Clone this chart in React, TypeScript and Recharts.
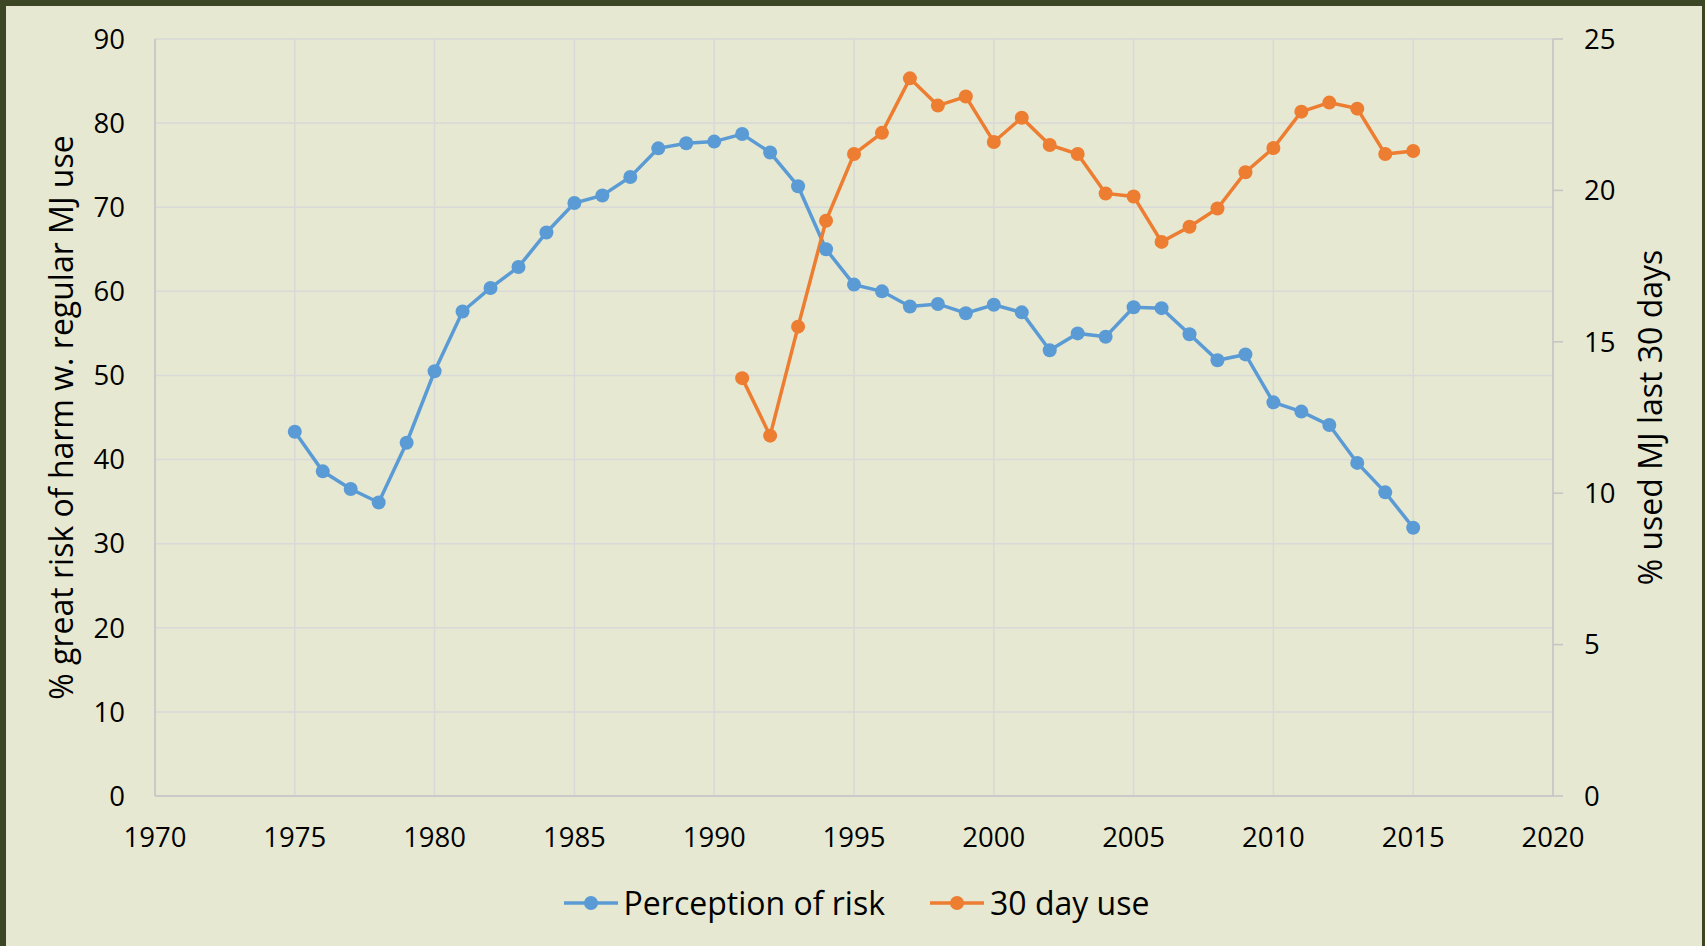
import React from "react";
import { LineChart, Line, XAxis, YAxis, CartesianGrid, Legend } from "recharts";

const years = [
  1975, 1976, 1977, 1978, 1979, 1980, 1981, 1982, 1983, 1984, 1985, 1986, 1987, 1988,
  1989, 1990, 1991, 1992, 1993, 1994, 1995, 1996, 1997, 1998, 1999, 2000, 2001, 2002,
  2003, 2004, 2005, 2006, 2007, 2008, 2009, 2010, 2011, 2012, 2013, 2014, 2015,
];

const perceptionOfRisk = [
  43.3, 38.6, 36.5, 34.9, 42.0, 50.5, 57.6, 60.4, 62.9, 67.0, 70.5, 71.4, 73.6, 77.0,
  77.6, 77.8, 78.7, 76.5, 72.5, 65.0, 60.8, 60.0, 58.2, 58.5, 57.4, 58.4, 57.5, 53.0,
  55.0, 54.6, 58.1, 58.0, 54.9, 51.8, 52.5, 46.8, 45.7, 44.1, 39.6, 36.1, 31.9,
];

const thirtyDayUse: (number | null)[] = [
  null, null, null, null, null, null, null, null, null, null, null, null, null, null,
  null, null, 13.8, 11.9, 15.5, 19.0, 21.2, 21.9, 23.7, 22.8, 23.1, 21.6, 22.4, 21.5,
  21.2, 19.9, 19.8, 18.3, 18.8, 19.4, 20.6, 21.4, 22.6, 22.9, 22.7, 21.2, 21.3,
];

const xTicks = [1970, 1975, 1980, 1985, 1990, 1995, 2000, 2005, 2010, 2015, 2020];
const leftTicks = [0, 10, 20, 30, 40, 50, 60, 70, 80, 90];
const rightTicks = [0, 5, 10, 15, 20, 25];

const seriesNames = ["Perception of risk", "30 day use"];
const axisTitles = {
  left: "% great risk of harm w. regular MJ use",
  right: "% used MJ last 30 days",
};

const data = years.map((year, i) => ({
  year,
  risk: perceptionOfRisk[i],
  use: thirtyDayUse[i],
}));

const FONT = "'Open Sans', sans-serif";
const BLUE = "#5b9bd5";
const ORANGE = "#ed7d31";
const GRID = "#d9d9d9";
const AXIS = "#c4c4c4";
const BG = "#e6e8d1";

const tickStyle = { fill: "#000", fontSize: 27.5, fontFamily: FONT };

const LeftTitle = (props: any) => {
  const vb = props.viewBox || { x: 0, y: 39, width: 155, height: 757 };
  const cx = vb.x + 73;
  const cy = vb.y + vb.height / 2;
  return (
    <text
      x={cx}
      y={cy}
      transform={`rotate(-90 ${cx} ${cy})`}
      textAnchor="middle"
      fontSize={32}
      fontFamily={FONT}
      fill="#000"
    >
      {axisTitles.left}
    </text>
  );
};

const RightTitle = (props: any) => {
  const vb = props.viewBox || { x: 1553, y: 39, width: 152, height: 757 };
  const cx = vb.x + 109;
  const cy = vb.y + vb.height / 2;
  return (
    <text
      x={cx}
      y={cy}
      transform={`rotate(-90 ${cx} ${cy})`}
      textAnchor="middle"
      fontSize={32}
      fontFamily={FONT}
      fill="#000"
    >
      {axisTitles.right}
    </text>
  );
};

const renderLegend = (props: any) => {
  const payload = [...(props.payload || [])].sort(
    (a: any, b: any) => seriesNames.indexOf(a.value) - seriesNames.indexOf(b.value)
  );
  return (
    <div
      style={{
        display: "flex",
        justifyContent: "center",
        alignItems: "center",
        height: 46,
        paddingLeft: 8,
        fontFamily: FONT,
        fontSize: 32,
        color: "#000",
      }}
    >
      {payload.map((entry: any, i: number) => (
        <div
          key={i}
          style={{ display: "flex", alignItems: "center", marginLeft: i === 0 ? 0 : 45 }}
        >
          <svg width={54} height={16} style={{ marginRight: 6 }}>
            <line x1={0} y1={8} x2={54} y2={8} stroke={entry.color} strokeWidth={3.5} />
            <circle cx={27} cy={8} r={7} fill={entry.color} />
          </svg>
          <span style={{ lineHeight: "46px" }}>{entry.value}</span>
        </div>
      ))}
    </div>
  );
};

export default function App() {
  return (
    <div
      style={{
        position: "absolute",
        top: 0,
        left: 0,
        width: 1705,
        height: 946,
        background: "#3d4624",
        overflow: "hidden",
      }}
    >
      <div
        style={{
          position: "absolute",
          top: 6,
          left: 6,
          right: 3,
          bottom: 0,
          background: BG,
        }}
      />
      <div style={{ position: "absolute", top: 0, left: 0 }}>
        <LineChart
          width={1705}
          height={946}
          data={data}
          margin={{ top: 39, right: 0, bottom: 90, left: 0 }}
        >
          <CartesianGrid
            yAxisId="left"
            stroke={GRID}
            strokeWidth={1.5}
            horizontal={true}
            vertical={true}
          />
          <XAxis
            dataKey="year"
            type="number"
            domain={[1970, 2020]}
            ticks={xTicks}
            interval={0}
            height={60}
            tickLine={false}
            tickSize={0}
            tickMargin={31}
            axisLine={{ stroke: AXIS, strokeWidth: 1.5 }}
            tick={tickStyle}
            allowDataOverflow
          />
          <YAxis
            yAxisId="left"
            orientation="left"
            domain={[0, 90]}
            ticks={leftTicks}
            interval={0}
            width={155}
            tickLine={false}
            tickSize={0}
            tickMargin={30}
            axisLine={{ stroke: AXIS, strokeWidth: 1.5 }}
            tick={tickStyle}
            label={{ content: (p: any) => <LeftTitle {...p} /> }}
          />
          <YAxis
            yAxisId="right"
            orientation="right"
            domain={[0, 25]}
            ticks={rightTicks}
            interval={0}
            width={152}
            tickLine={{ stroke: AXIS, strokeWidth: 1.5 }}
            tickSize={10}
            tickMargin={21}
            axisLine={{ stroke: AXIS, strokeWidth: 1.5 }}
            tick={tickStyle}
            label={{ content: (p: any) => <RightTitle {...p} /> }}
          />
          <Legend
            layout="horizontal"
            verticalAlign="middle"
            align="center"
            wrapperStyle={{ top: 880, left: 0, width: 1705 }}
            content={renderLegend}
          />
          <Line
            yAxisId="left"
            type="linear"
            dataKey="risk"
            name={seriesNames[0]}
            stroke={BLUE}
            strokeWidth={3.5}
            dot={{ r: 7, fill: BLUE, stroke: BLUE, strokeWidth: 0 }}
            activeDot={false}
            isAnimationActive={false}
          />
          <Line
            yAxisId="right"
            type="linear"
            dataKey="use"
            name={seriesNames[1]}
            stroke={ORANGE}
            strokeWidth={3.5}
            dot={{ r: 7, fill: ORANGE, stroke: ORANGE, strokeWidth: 0 }}
            activeDot={false}
            isAnimationActive={false}
          />
        </LineChart>
      </div>
    </div>
  );
}
